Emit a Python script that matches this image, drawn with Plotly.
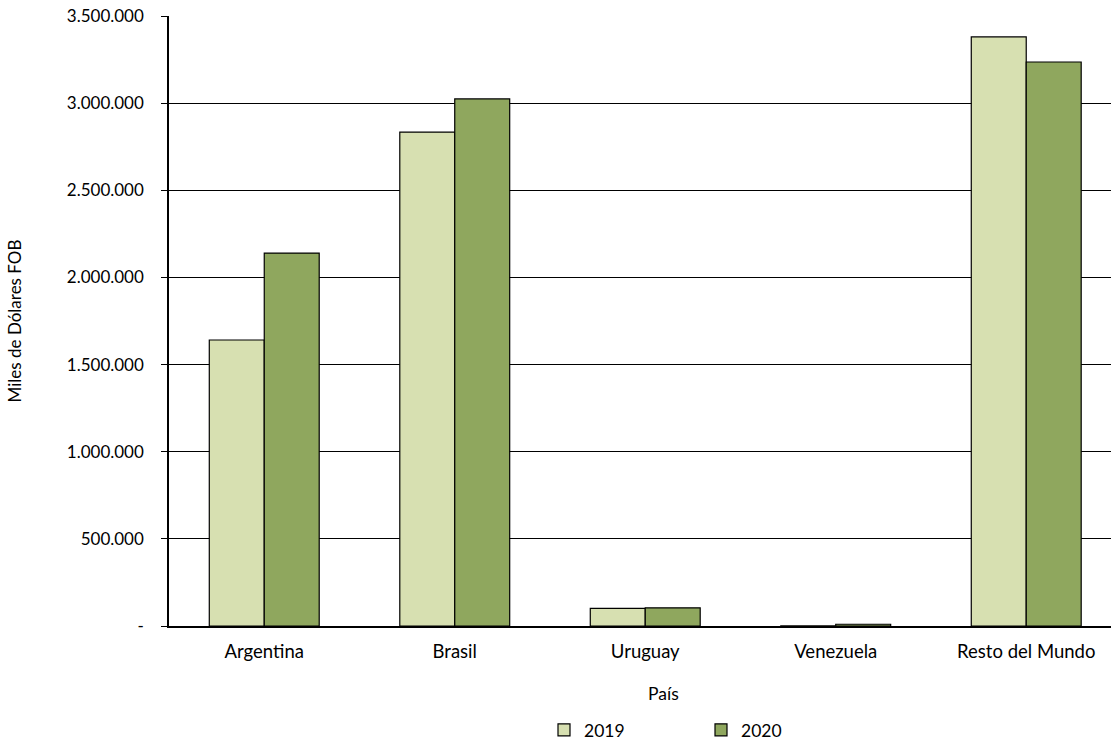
import plotly.graph_objects as go

paises = ["Argentina", "Brasil", "Uruguay", "Venezuela", "Resto del Mundo"]
v2019 = [1641000, 2834000, 101000, 1500, 3380000]
v2020 = [2140000, 3024000, 104000, 10000, 3236000]
tick_vals = [0, 500000, 1000000, 1500000, 2000000, 2500000, 3000000, 3500000]
tick_text = ["-", "500.000", "1.000.000", "1.500.000", "2.000.000", "2.500.000", "3.000.000", "3.500.000"]

FONT = "Lato"
L, T, B = 169, 16, 118
W, H = 1111, 744
PH = H - B - T
fig = go.Figure()
fig.add_trace(go.Bar(name="2019", x=paises, y=v2019, marker=dict(color="#D7E0B1", line=dict(color="black", width=1.2))))
fig.add_trace(go.Bar(name="2020", x=paises, y=v2020, marker=dict(color="#8FA75E", line=dict(color="black", width=1.2))))

fig.update_layout(
    width=W, height=H,
    margin=dict(l=L, r=0, t=T, b=B, autoexpand=False),
    paper_bgcolor="white", plot_bgcolor="white",
    barmode="group", bargap=0.423, bargroupgap=0,
    font=dict(family=FONT, size=17, color="black"),
    showlegend=True,
    legend=dict(orientation="h", x=(544 - L) / (W - L), xanchor="left",
                y=-(730 - (H - B)) / PH, yanchor="middle",
                entrywidth=112, entrywidthmode="pixels", font=dict(size=17.5), itemwidth=30),
    xaxis=dict(range=[-0.5, 4.445], showline=True, linecolor="black", linewidth=1.5,
               ticks="", tickfont=dict(size=18.5), showgrid=False, ticklabelstandoff=8),
    yaxis=dict(range=[0, 3500000], tickvals=tick_vals, ticktext=tick_text,
               showline=True, linecolor="black", linewidth=1.5, ticks="outside", ticklen=6,
               tickcolor="black", showgrid=True, gridcolor="black", gridwidth=1.2,
               tickfont=dict(size=17), zeroline=False, ticklabelstandoff=14,
               title=dict(text="Miles de Dólares FOB", font=dict(size=17), standoff=41)),
    annotations=[dict(text="País", x=(663 - L) / (W - L), xref="paper", xanchor="center",
                      y=-(693 - (H - B)) / PH, yref="paper", yanchor="middle", showarrow=False,
                      font=dict(size=17.5))],
)
fig.write_html("out.html", config={"displayModeBar": False},
               post_script="document.body.style.margin='0';document.body.style.overflow='hidden';")
